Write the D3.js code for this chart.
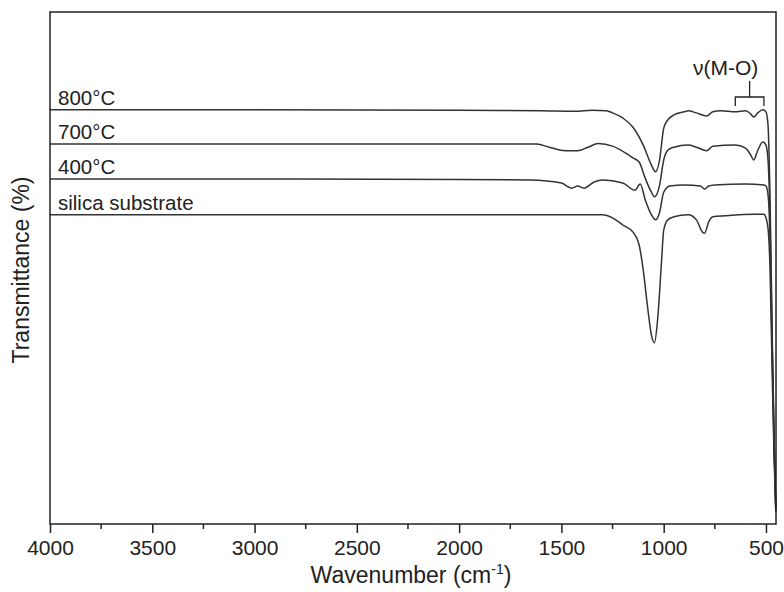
<!DOCTYPE html>
<html>
<head>
<meta charset="utf-8">
<script src="https://cdn.jsdelivr.net/npm/d3@7"></script>
<style>
  body { margin: 0; background: #fff; }
  text { font-family: "Liberation Sans", Arial, sans-serif; fill: #222; }
  .curve { fill: none; stroke: #333; stroke-width: 1.5; }
</style>
</head>
<body>
<div id="chart"></div>
<script>
// wavenumbers (cm-1) where each spectrum was read
var wn800 = [4000, 3000, 2000, 1600, 1430, 1350, 1280, 1250, 1200, 1150, 1100, 1060, 1040, 1020, 1000, 980, 950, 900, 880, 840, 790, 760, 720, 650, 600, 575, 560, 540, 515, 500, 490, 480, 470, 460, 452]
var t800 = [80.9, 80.9, 80.8, 80.7, 80.6, 80.8, 80.7, 80.3, 79.3, 77.5, 74.0, 70.1, 68.8, 71.1, 77.3, 78.9, 79.9, 80.5, 80.7, 80.3, 79.7, 80.5, 80.7, 80.5, 80.7, 80.1, 79.5, 80.3, 80.9, 80.5, 77.9, 63.3, 37.9, 16.4, 3.7]

var wn700 = [4000, 2000, 1620, 1560, 1480, 1420, 1370, 1320, 1250, 1180, 1150, 1120, 1090, 1060, 1045, 1020, 1000, 980, 950, 880, 840, 790, 760, 650, 600, 575, 560, 540, 515, 500, 490, 480, 470, 460, 452]
var t700 = [74.2, 74.2, 74.2, 73.6, 72.9, 72.9, 73.6, 74.3, 73.8, 72.3, 71.5, 70.7, 67.5, 64.8, 63.9, 66.2, 71.1, 73.0, 73.6, 74.0, 73.6, 72.9, 73.8, 74.0, 73.4, 72.1, 71.1, 73.0, 74.6, 74.0, 71.1, 59.4, 35.9, 15.4, 3.1]

var wn400 = [4000, 2000, 1650, 1500, 1450, 1420, 1390, 1340, 1300, 1200, 1140, 1115, 1090, 1060, 1040, 1020, 1000, 970, 900, 820, 800, 780, 750, 600, 510, 500, 490, 480, 470, 460, 452]
var t400 = [67.4, 67.3, 67.2, 66.6, 65.6, 66.0, 65.6, 66.8, 67.2, 66.6, 65.2, 66.4, 63.3, 60.4, 59.4, 60.9, 64.8, 66.0, 66.2, 66.0, 65.4, 66.0, 66.2, 66.4, 66.2, 66.0, 64.3, 55.5, 34.0, 14.5, 2.7]

var wnSi = [4000, 2000, 1300, 1250, 1200, 1150, 1120, 1100, 1080, 1060, 1045, 1030, 1010, 1000, 980, 950, 880, 840, 810, 800, 780, 760, 700, 550, 510, 500, 490, 480, 470, 460, 452]
var tSi = [60.4, 60.4, 60.4, 59.8, 58.4, 57.0, 54.5, 49.6, 42.8, 36.9, 35.4, 39.8, 51.6, 57.4, 59.4, 60.0, 60.4, 59.4, 57.0, 56.8, 59.0, 60.0, 60.2, 60.5, 60.5, 59.8, 57.8, 49.6, 30.1, 12.5, 2.3]

var seriesNames = ['800°C', '700°C', '400°C', 'silica substrate']
var seriesWn = [wn800, wn700, wn400, wnSi]
var seriesT = [t800, t700, t400, tSi]

var xTicks = [4000, 3500, 3000, 2500, 2000, 1500, 1000, 500]
var xMinorTicks = [3750, 3250, 2750, 2250, 1750, 1250, 750]
var bracketWn = [650, 580, 510] // left end, stem, right end of the ν(M-O) bracket

var W = 784, H = 592
var margin = {top: 12, right: 8, bottom: 68, left: 50}
var width = W - margin.left - margin.right
var height = H - margin.top - margin.bottom

var svg = d3.select('#chart').append('svg')
  .attr('width', W)
  .attr('height', H)

var g = svg.append('g')
  .attr('transform', 'translate(' + margin.left + ',' + margin.top + ')')

var xScale = d3.scaleLinear().domain([4000, 451]).range([0, width])
var yScale = d3.scaleLinear().domain([0, 100]).range([height, 0])

var line = d3.line()
  .curve(d3.curveMonotoneX)
  .x(function(d) { return xScale(d[0]) })
  .y(function(d) { return yScale(d[1]) })

// spectra
seriesNames.forEach(function(name, i) {
  var pts = seriesWn[i].map(function(w, j) { return [w, seriesT[i][j]] })
  g.append('path')
    .datum(pts)
    .attr('class', 'curve')
    .attr('d', line)
  g.append('text')
    .attr('x', 8)
    .attr('y', yScale(seriesT[i][0]) - 5)
    .style('font-size', '20.5px')
    .text(name)
})

// frame
g.append('rect')
  .attr('width', width)
  .attr('height', height)
  .attr('fill', 'none')
  .attr('stroke', '#222')
  .attr('stroke-width', 1.5)

// bottom axis
var xAxis = g.append('g')
  .attr('transform', 'translate(0,' + height + ')')
  .call(d3.axisBottom(xScale).tickValues(xTicks).tickFormat(d3.format('d'))
    .tickSize(9).tickSizeOuter(0).tickPadding(7))
xAxis.select('.domain').remove()
xAxis.selectAll('line').attr('stroke', '#222').attr('stroke-width', 1.5)
xAxis.selectAll('text')
  .style('font-size', '21px')
  .style('font-family', '"Liberation Sans", Arial, sans-serif')
  .attr('fill', '#222')

g.append('g')
  .attr('transform', 'translate(0,' + height + ')')
  .selectAll('line')
  .data(xMinorTicks)
  .enter().append('line')
    .attr('x1', function(d) { return xScale(d) })
    .attr('x2', function(d) { return xScale(d) })
    .attr('y1', 0)
    .attr('y2', 5)
    .attr('stroke', '#222')
    .attr('stroke-width', 1.5)

// axis titles
var xTitle = svg.append('text')
  .attr('x', 411)
  .attr('y', 583)
  .attr('text-anchor', 'middle')
  .style('font-size', '23px')
xTitle.append('tspan').text('Wavenumber (cm')
xTitle.append('tspan').attr('dy', -9).style('font-size', '14px').text('-1')
xTitle.append('tspan').attr('dy', 9).text(')')

svg.append('text')
  .attr('transform', 'translate(29,270) rotate(-90)')
  .attr('text-anchor', 'middle')
  .style('font-size', '23px')
  .text('Transmittance (%)')

// ν(M-O) bracket
var bY = 97 - margin.top
var bracket = g.append('g').attr('stroke', '#222').attr('stroke-width', 1.3).attr('fill', 'none')
bracket.append('path')
  .attr('d', 'M' + xScale(bracketWn[0]) + ',' + (bY + 9) + 'V' + bY + 'H' + xScale(bracketWn[2]) + 'V' + (bY + 9))
bracket.append('line')
  .attr('x1', xScale(bracketWn[1])).attr('x2', xScale(bracketWn[1]))
  .attr('y1', bY).attr('y2', bY - 16)
g.append('text')
  .attr('x', xScale(bracketWn[1]) - 24)
  .attr('y', bY - 22)
  .attr('text-anchor', 'middle')
  .style('font-size', '21px')
  .text('ν(M-O)')
</script>
</body>
</html>
